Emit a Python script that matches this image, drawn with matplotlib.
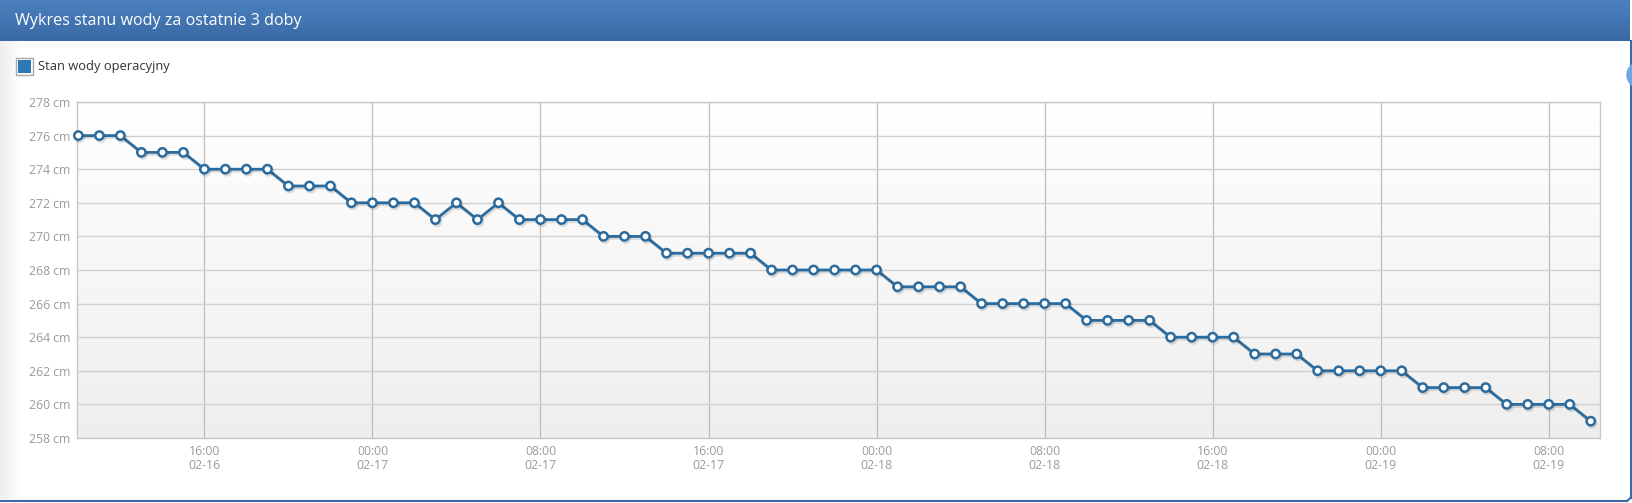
import numpy as np
import pandas as pd
import matplotlib
matplotlib.use('Agg')
import matplotlib.pyplot as plt
import matplotlib.dates as mdates
import matplotlib.patheffects as pe
from matplotlib.patches import Rectangle, Circle

plt.rcParams['font.family'] = ['Open Sans', 'DejaVu Sans']

# stan wody, co godzine od 02-16 10:00 do 02-19 10:00
levels = [276, 276, 276, 275, 275, 275, 274, 274, 274, 274, 273, 273, 273,
          272, 272, 272, 272, 271, 272, 271, 272, 271, 271, 271, 271,
          270, 270, 270, 269, 269, 269, 269, 269, 268, 268, 268, 268, 268,
          268, 267, 267, 267, 267, 266, 266, 266, 266, 266, 265, 265, 265, 265,
          264, 264, 264, 264, 263, 263, 263, 262, 262, 262, 262, 262,
          261, 261, 261, 261, 260, 260, 260, 260, 259]
start = '2019-02-16 10:00'
times = pd.date_range(start, periods=len(levels), freq='h')
y_ticks = list(range(258, 279, 2))

title = 'Wykres stanu wody za ostatnie 3 doby'
series_name = 'Stan wody operacyjny'

W, H = 1632, 503
fig = plt.figure(figsize=(W / 100, H / 100), dpi=100)

# tlo panelu (wspolrzedne w pikselach)
bg = fig.add_axes([0, 0, 1, 1], zorder=-5)
bg.set_xlim(0, W)
bg.set_ylim(H, 0)
bg.axis('off')

# pasek tytulu z gradientem
grad = np.linspace(0, 1, 50).reshape(-1, 1)
top_c = np.array([0x4b, 0x80, 0xbd]) / 255
bot_c = np.array([0x3a, 0x6a, 0xa6]) / 255
img = top_c + (bot_c - top_c) * grad[..., None]
img = img.reshape(50, 1, 3)
bg.imshow(img, extent=[0, 1630, 41, 0], aspect='auto', zorder=1)

# lekki cien po lewej
shade = np.linspace(0.93, 1.0, 30).reshape(1, -1)
shade_img = np.dstack([shade, shade, shade])
bg.imshow(shade_img, extent=[0, 22, 499, 41], aspect='auto', zorder=1)

# ramka panelu
bg.plot([1630.5, 1630.5], [41, 498], color='#3a6aa6', lw=1.5, zorder=2)
bg.plot([0, 1627], [501, 501], color='#3a6aa6', lw=1.5, zorder=2)
bg.plot([1627, 1630.5], [501, 498], color='#3a6aa6', lw=1.5, zorder=2)
bg.add_patch(Circle((1640, 75), 13, color='#6fa6e6', zorder=3, clip_on=True))

bg.text(15, 21, title, color='white', fontsize=11.6, va='center', ha='left')

# legenda
bg.add_patch(Rectangle((15.5, 57.5), 17, 17, facecolor='white', edgecolor='#a8a8a8', lw=1, zorder=2))
bg.add_patch(Rectangle((17.5, 59.5), 13, 13, facecolor='#2e78b6', edgecolor='none', zorder=3))
bg.text(37.5, 66.5, series_name, color='#333333', fontsize=9.3, va='center', ha='left')

# wykres
left, right, top, bottom = 76.7, 1600, 102, 438
ax = fig.add_axes([left / W, 1 - bottom / H, (right - left) / W, (bottom - top) / H])

x0 = times[0] - pd.Timedelta(hours=0.08)
x1 = times[-1] + pd.Timedelta(hours=0.44)

# gradient tla obszaru wykresu
pg = np.linspace(1.0, 0.935, 100).reshape(-1, 1)
pimg = np.dstack([pg, pg, pg])
ax.imshow(pimg, extent=[mdates.date2num(x0), mdates.date2num(x1), 258, 278],
          aspect='auto', zorder=0, origin='upper')
ax.set_xlim(x0, x1)
ax.set_ylim(258, 278)

ax.set_yticks(y_ticks)
ax.set_yticklabels([f'{v} cm' for v in y_ticks])
ax.xaxis.set_major_locator(mdates.HourLocator(byhour=[0, 8, 16]))
ax.xaxis.set_major_formatter(mdates.DateFormatter('%H:%M\n%m-%d'))

ax.grid(axis='y', color='#d0d0d0', lw=1, zorder=1)
ax.grid(axis='x', color='#bdbdbd', lw=0.9, zorder=1)
ax.set_axisbelow(True)
for s in ax.spines.values():
    s.set_color('#c8c8c8')
    s.set_linewidth(1)
ax.tick_params(length=0, labelsize=8.8, labelcolor='#9a9a9a')
ax.tick_params(axis='y', pad=4.5)
ax.tick_params(axis='x', pad=5)
for lab in ax.get_xticklabels():
    lab.set_linespacing(1.15)

ax.plot(times, levels, color='#2b6b9d', lw=2, marker='o', markersize=6,
        markerfacecolor='white', markeredgecolor='#2b6b9d', markeredgewidth=1.8,
        zorder=3, clip_on=False,
        path_effects=[pe.SimpleLineShadow(offset=(1, -1.5), alpha=0.12, shadow_color='black'),
                      pe.Normal()])

fig.savefig('out.png', dpi=100, facecolor='white')
